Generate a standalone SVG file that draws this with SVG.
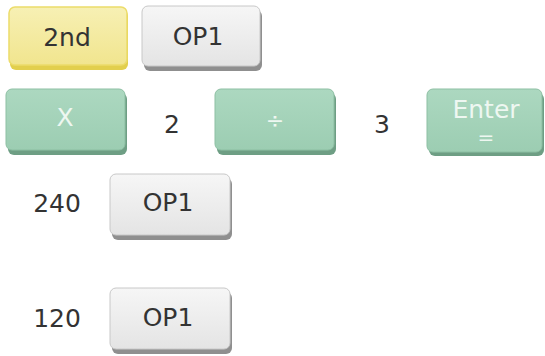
<svg xmlns="http://www.w3.org/2000/svg" width="545" height="356" viewBox="0 0 545 356">
<defs>
<linearGradient id="gy" x1="0" y1="0" x2="0" y2="1"><stop offset="0" stop-color="#f7f0b4"/><stop offset="1" stop-color="#f1e58e"/></linearGradient>
<linearGradient id="gg" x1="0" y1="0" x2="0" y2="1"><stop offset="0" stop-color="#f6f6f6"/><stop offset="1" stop-color="#e4e4e4"/></linearGradient>
<linearGradient id="gr" x1="0" y1="0" x2="0" y2="1"><stop offset="0" stop-color="#acd8c0"/><stop offset="1" stop-color="#9ccdb2"/></linearGradient>
</defs>
<style>
.t{font-family:"DejaVu Sans",Verdana,sans-serif;font-size:25px;fill:#333;text-anchor:middle}
.w{font-family:"DejaVu Sans",Verdana,sans-serif;font-size:25px;fill:#eef7f1;text-anchor:middle}
.ys{fill:#e2cf4c}.yb{fill:url(#gy);stroke:#ecdc6a;stroke-width:1.5}
.gs{fill:#8f8f8f}.gb{fill:url(#gg);stroke:#c8c8c8;stroke-width:1}
.rs{fill:#6e9e84}.rb{fill:url(#gr);stroke:#8dbfa3;stroke-width:1}
</style>
<g id="key-2nd"><rect class="ys" x="10" y="10" width="118" height="60" rx="6"/><rect class="yb" x="9" y="7" width="118" height="58" rx="6"/><text class="t" x="67" y="46">2nd</text></g>
<g id="key-op1-top"><rect class="gs" x="144" y="10" width="118" height="61" rx="6"/><rect class="gb" x="142" y="6" width="118" height="60" rx="6"/><text class="t" x="198" y="45">OP1</text></g>
<g id="key-x"><rect class="rs" x="8" y="93" width="119" height="62" rx="6"/><rect class="rb" x="6" y="89" width="119" height="61" rx="6"/><text class="w" x="65" y="126">X</text></g>
<g id="num-2"><text class="t" x="172" y="133">2</text></g>
<g id="key-div"><rect class="rs" x="217" y="93" width="119" height="62" rx="6"/><rect class="rb" x="215" y="89" width="119" height="61" rx="6"/><text class="w" x="275" y="128" style="font-size:22px">÷</text></g>
<g id="num-3"><text class="t" x="382" y="133">3</text></g>
<g id="key-enter"><rect class="rs" x="429" y="93" width="115" height="63" rx="6"/><rect class="rb" x="427" y="89" width="115" height="63" rx="6"/><text class="w" x="486" y="118">Enter</text><text class="w" x="486" y="144" style="font-size:20px">=</text></g>
<g id="num-240"><text class="t" x="57" y="212">240</text></g>
<g id="key-op1-mid"><rect class="gs" x="112" y="178" width="120" height="62" rx="6"/><rect class="gb" x="110" y="174" width="120" height="61" rx="6"/><text class="t" x="168" y="211">OP1</text></g>
<g id="num-120"><text class="t" x="57" y="327">120</text></g>
<g id="key-op1-bot"><rect class="gs" x="112" y="292" width="120" height="62" rx="6"/><rect class="gb" x="110" y="288" width="120" height="61" rx="6"/><text class="t" x="168" y="326">OP1</text></g>
<g id="connectors"/>
</svg>
